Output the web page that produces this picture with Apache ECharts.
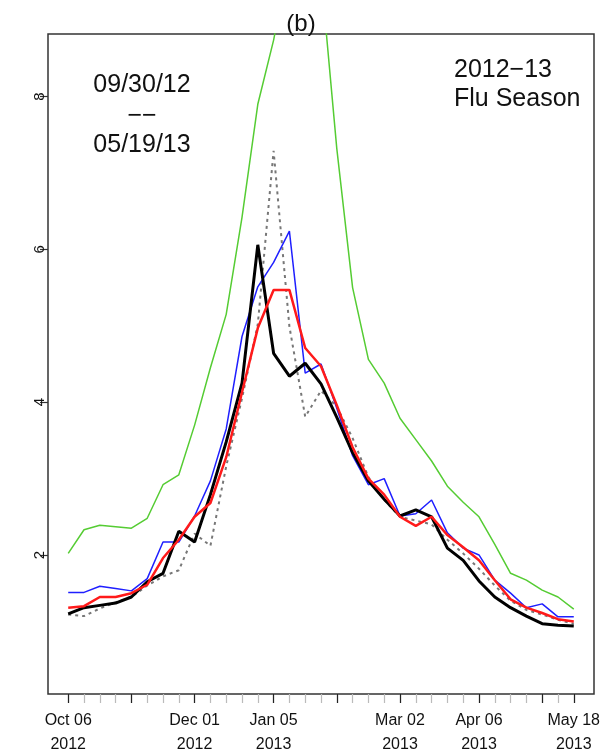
<!DOCTYPE html>
<html>
<head>
<meta charset="utf-8">
<script src="https://cdn.jsdelivr.net/npm/echarts@6/dist/echarts.min.js"></script>
<style>
  html, body { margin: 0; padding: 0; background: #fff; }
  #chart { width: 602px; height: 756px; }
</style>
</head>
<body>
<div id="chart"></div>
<script>
// weekly points, Oct 06 2012 .. May 18 2013 (index = week number)
const weeks = ['10/06','10/13','10/20','10/27','11/03','11/10','11/17','11/24','12/01','12/08','12/15','12/22','12/29',
  '01/05','01/12','01/19','01/26','02/02','02/09','02/16','02/23','03/02','03/09','03/16','03/23','03/30',
  '04/06','04/13','04/20','04/27','05/04','05/11','05/18']

const blackVals = [1.23,1.31,1.34,1.37,1.45,1.65,1.76,2.31,2.17,2.79,3.48,4.25,6.06,
  4.64,4.34,4.51,4.24,3.80,3.34,2.97,2.73,2.51,2.59,2.50,2.09,1.93,
  1.66,1.45,1.31,1.20,1.10,1.08,1.07]
const redVals = [1.31,1.33,1.45,1.45,1.50,1.61,1.96,2.20,2.50,2.68,3.28,4.13,4.97,
  5.47,5.47,4.71,4.47,3.96,3.41,3.00,2.79,2.50,2.38,2.50,2.26,2.10,
  1.93,1.67,1.42,1.31,1.24,1.16,1.13]
const blueVals = [1.51,1.51,1.59,1.56,1.53,1.69,2.17,2.17,2.51,2.97,3.65,4.86,5.51,
  5.83,6.24,4.38,4.50,3.92,3.30,2.92,3.00,2.51,2.54,2.72,2.29,2.09,
  2.00,1.67,1.50,1.31,1.36,1.19,1.19]
const greenVals = [2.02,2.33,2.39,2.37,2.35,2.48,2.92,3.05,3.70,4.45,5.15,6.42,7.90,
  8.74,9.80,10.3,9.60,7.32,5.50,4.56,4.25,3.79,3.51,3.23,2.90,2.69,
  2.50,2.14,1.76,1.67,1.54,1.45,1.29]
const grayVals = [1.22,1.20,1.30,1.38,1.45,1.60,1.72,1.80,2.28,2.12,3.16,4.05,5.02,
  7.29,4.99,3.81,4.15,3.94,3.53,3.02,2.72,2.50,2.45,2.40,2.20,2.02,
  1.82,1.60,1.40,1.28,1.22,1.15,1.10]

// axis ticks
const minorTicks = weeks.map((w, i) => i)
const majorTicks = [0, 4, 8, 13, 17, 21, 26, 30, 32]
const labelTicks = [0, 8, 13, 21, 26, 32]
const tickLabels = ['Oct 06\n2012', 'Dec 01\n2012', 'Jan 05\n2013', 'Mar 02\n2013', 'Apr 06\n2013', 'May 18\n2013']
const yTicks = [2, 4, 6, 8]

const pts = vals => vals.map((v, i) => [i, v])

const chart = echarts.init(document.getElementById('chart'))
const xRange = { min: -1.28, max: 33.28 }
const textFont = 'Liberation Sans'

chart.setOption({
  animation: false,
  grid: {
    left: 48, right: 8, top: 34, bottom: 62, outerBoundsMode: 'none', containLabel: false,
    show: true, borderColor: '#333', borderWidth: 1.5, backgroundColor: 'transparent'
  },
  xAxis: [
    {
      type: 'value', ...xRange, position: 'bottom',
      axisLine: { show: false, onZero: false }, splitLine: { show: false },
      axisTick: { show: true, length: 9, customValues: minorTicks, lineStyle: { color: '#bbb', width: 1.2 } },
      axisLabel: { show: false }
    },
    {
      type: 'value', ...xRange, position: 'bottom',
      axisLine: { show: false, onZero: false }, splitLine: { show: false },
      axisTick: { show: true, length: 9, customValues: majorTicks, lineStyle: { color: '#222', width: 1.2 } },
      axisLabel: {
        show: true, customValues: labelTicks, margin: 15,
        fontFamily: textFont, fontSize: 16, color: '#111', lineHeight: 24,
        formatter: v => tickLabels[labelTicks.indexOf(Math.round(v))] || ''
      }
    }
  ],
  yAxis: {
    type: 'value', min: 0.18, max: 8.82,
    axisLine: { show: false, onZero: false }, splitLine: { show: false },
    axisTick: { show: true, length: 8, customValues: yTicks, lineStyle: { color: '#333', width: 1.2 } },
    axisLabel: {
      show: true, customValues: yTicks, rotate: 90, margin: 1,
      fontFamily: textFont, fontSize: 15, color: '#111'
    }
  },
  graphic: [
    { type: 'text', left: 'center', top: 12, style: { text: '(b)', font: '24px "Liberation Sans"', fill: '#111' } },
    { type: 'text', x: 142, y: 85, style: { text: '09/30/12', font: '25px "Liberation Sans"', fill: '#111', align: 'center', verticalAlign: 'middle' } },
    { type: 'text', x: 142, y: 116, style: { text: '−−', font: '25px "Liberation Sans"', fill: '#111', align: 'center', verticalAlign: 'middle' } },
    { type: 'text', x: 142, y: 145, style: { text: '05/19/13', font: '25px "Liberation Sans"', fill: '#111', align: 'center', verticalAlign: 'middle' } },
    { type: 'text', x: 454, y: 70, style: { text: '2012−13', font: '25px "Liberation Sans"', fill: '#111', align: 'left', verticalAlign: 'middle' } },
    { type: 'text', x: 454, y: 99, style: { text: 'Flu Season', font: '25px "Liberation Sans"', fill: '#111', align: 'left', verticalAlign: 'middle' } }
  ],
  series: [
    { type: 'line', name: 'green', data: pts(greenVals), xAxisIndex: 0, symbol: 'none', clip: true,
      lineStyle: { color: '#55cc33', width: 1.5 } },
    { type: 'line', name: 'gray', data: pts(grayVals), xAxisIndex: 0, symbol: 'none',
      lineStyle: { color: '#777', width: 2, type: [3, 4] } },
    { type: 'line', name: 'blue', data: pts(blueVals), xAxisIndex: 0, symbol: 'none',
      lineStyle: { color: '#1f1fff', width: 1.5 } },
    { type: 'line', name: 'black', data: pts(blackVals), xAxisIndex: 0, symbol: 'none',
      lineStyle: { color: '#000', width: 3 } },
    { type: 'line', name: 'red', data: pts(redVals), xAxisIndex: 0, symbol: 'none',
      lineStyle: { color: '#ff1a1a', width: 2.5 } }
  ]
})
</script>
</body>
</html>
